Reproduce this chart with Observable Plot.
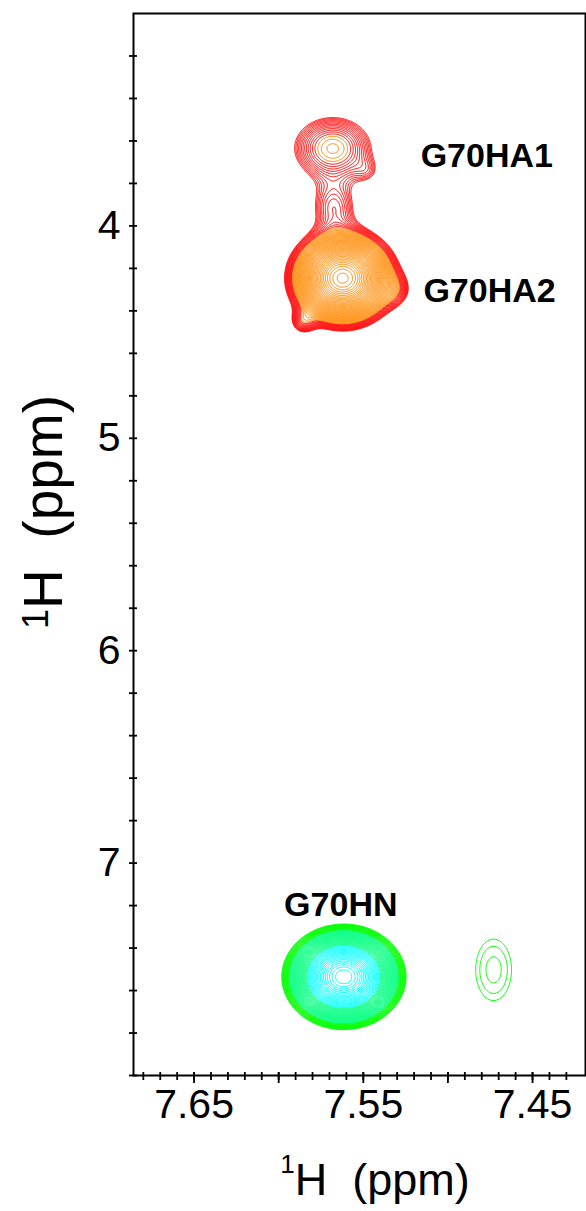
<!DOCTYPE html>
<html><head><meta charset="utf-8">
<script src="https://cdn.jsdelivr.net/npm/d3@7"></script>
<script src="https://cdn.jsdelivr.net/npm/@observablehq/plot@0.6"></script>
<style>
html,body{margin:0;padding:0;background:#fff;}
#chart svg{display:block;}
</style>
</head><body><div id="chart"></div>
<script>
// ---- Spectrum A (HA region, red -> orange contours): peak components (ppm)
const aX  = [7.5681, 7.5622, 7.5675, 7.5309, 7.5858, 7.5468];
const aY  = [3.6344, 4.2460, 3.9120, 4.3026, 4.4532, 3.7473];
const aH  = [2.27, 14.9, 1.4, 1.0, 1.3, 0.55];
const aSX = [0.01754, 0.01477, 0.01063, 0.00709, 0.00532, 0.00591];
const aSY = [0.1129, 0.1073, 0.0847, 0.0565, 0.0424, 0.0471];

// ---- Spectrum B (HN region, green -> cyan contours)
const bX  = [7.5616, 7.4730];
const bY  = [7.5355, 7.5026];
const bH  = [20, 1.14];
const bSX = [0.01494, 0.02067];
const bSY = [0.1016, 0.2824];

// ---- contour levels
const levels = [1, 1.055, 1.113, 1.174, 1.239, 1.307, 1.379, 1.455, 1.535, 1.619, 1.708, 1.802, 1.901,
  2.006, 2.116, 2.233, 2.355, 2.485, 2.622, 2.766, 2.918, 3.078, 3.248, 3.426, 3.615, 3.813, 4.023,
  4.245, 4.478, 4.724, 4.984, 5.258, 5.547, 5.852, 6.174, 6.514, 6.872, 7.250, 7.649, 8.069, 8.513,
  8.982, 9.476, 9.997, 10.547, 11.127, 11.739, 12.384, 13.065, 13.784, 14.542, 15.342, 16.186,
  17.076, 18.015, 19.006];

// ---- peak labels
const labelText = ["G70HA1", "G70HA2", "G70HN"];
const labelX = [7.5161, 7.5145, 7.5633];
const labelY = [3.672, 4.305, 7.197];
const labelAnchor = ["start", "start", "middle"];

// ---- ticks
const xTicks = [7.43,7.44,7.45,7.46,7.47,7.48,7.49,7.50,7.51,7.52,7.53,7.54,7.55,7.56,7.57,7.58,7.59,7.60,7.61,7.62,7.63,7.64,7.65,7.66,7.67,7.68];
const xTicksMajor = [7.45, 7.50, 7.55, 7.60, 7.65];
const xTickLabels = [7.45, 7.55, 7.65];
const yTicks = [3.2,3.4,3.6,3.8,4,4.2,4.4,4.6,4.8,5,5.2,5.4,5.6,5.8,6,6.2,6.4,6.6,6.8,7,7.2,7.4,7.6,7.8,8];
const yTickLabels = [4, 5, 6, 7];
const axisTitle = ["1", "H  (ppm)"];

function spectrum(px, py, ph, sx, sy) {
  return (x, y) => {
    let s = 0;
    for (let i = 0; i < px.length; i++) {
      const dx = (x - px[i]) / sx[i], dy = (y - py[i]) / sy[i];
      s += ph[i] * Math.exp(-0.5 * (dx * dx + dy * dy));
    }
    return s;
  };
}
// sample a spectrum on a regular grid (data coordinates)
function sampleGrid(f, x1, x2, y1, y2, W, H) {
  const v = new Array(W * H);
  for (let r = 0; r < H; r++) {
    const y = y1 + (r + 0.5) * (y2 - y1) / H;
    for (let c = 0; c < W; c++) {
      const x = x1 + (c + 0.5) * (x2 - x1) / W;
      v[r * W + c] = f(x, y);
    }
  }
  return {values: v, x1, x2, y1, y2, W, H};
}
const gA = sampleGrid(spectrum(aX, aY, aH, aSX, aSY), 7.62, 7.50, 3.3, 4.75, 203, 308);
const gB = sampleGrid(spectrum(bX, bY, bH, bSX, bSY), 7.62, 7.4187, 7.0, 8.0, 341, 212);

const lvA1 = levels.filter(l => l < 2), lvA2 = levels.filter(l => l >= 2);
const lvB1 = levels.filter(l => l < 2), lvB2 = levels.filter(l => l >= 2 && l < 6.9), lvB3 = levels.filter(l => l >= 6.9);

const labels = labelText.map((t, i) => ({t, x: labelX[i], y: labelY[i], a: labelAnchor[i]}));

const cont = (g, th, color) => Plot.contour(g.values, {
  value: d => d, width: g.W, height: g.H, x1: g.x1, x2: g.x2, y1: g.y1, y2: g.y2,
  thresholds: th, stroke: color, fill: "none", strokeWidth: 1
});

const chart = Plot.plot({
  width: 586, height: 1211,
  marginTop: 13, marginBottom: 136, marginLeft: 133, marginRight: 1,
  x: {domain: [7.6858, 7.4187], axis: null},
  y: {domain: [8, 3], axis: null},
  style: {fontFamily: "'Liberation Sans', Arial, sans-serif", fontSize: "41px", color: "black", background: "white"},
  marks: [
    cont(gA, lvA1, "#ff0000"),
    cont(gA, lvA2, "#ff8a00"),
    cont(gB, lvB1, "#00ff00"),
    cont(gB, lvB2, "#00ff80"),
    cont(gB, lvB3, "#00ffff"),
    Plot.text(labels.filter(d => d.a === "start"), {x: "x", y: "y", text: "t", textAnchor: "start", fontWeight: "bold", fontSize: 34, fill: "black"}),
    Plot.text(labels.filter(d => d.a === "middle"), {x: "x", y: "y", text: "t", textAnchor: "middle", fontWeight: "bold", fontSize: 34, fill: "black"}),
    Plot.frame({stroke: "black", strokeWidth: 2}),
    // x ticks (cross the bottom frame line)
    Plot.tickX(xTicks, {x: d => d, insetTop: 1059, insetBottom: -5, stroke: "black", strokeWidth: 1.8}),
    Plot.tickX(xTicksMajor, {x: d => d, insetTop: 1059, insetBottom: -8, stroke: "black", strokeWidth: 1.8}),
    Plot.text(xTickLabels, {x: d => d, frameAnchor: "bottom", dy: 13, lineAnchor: "top", text: d => d.toFixed(2), fontSize: 41, fill: "black"}),
    // y ticks (cross the left frame line)
    Plot.tickY(yTicks, {y: d => d, insetLeft: -4, insetRight: 448, stroke: "black", strokeWidth: 1.8}),
    Plot.text(yTickLabels, {y: d => d, frameAnchor: "left", dx: -13, textAnchor: "end", text: d => String(d), fontSize: 41, fill: "black"})
  ]
});

const svg = d3.select(chart);
const xt = svg.append("text").attr("x", 375).attr("y", 1195).attr("text-anchor", "middle")
  .attr("font-size", 45).attr("fill", "black").style("white-space", "pre");
xt.append("tspan").attr("font-size", 26).attr("dy", -22).text(axisTitle[0]);
xt.append("tspan").attr("dy", 22).text(axisTitle[1]);

const yt = svg.append("text").attr("transform", "translate(62,512) rotate(-90)").attr("text-anchor", "middle")
  .attr("font-size", 55).attr("fill", "black").style("white-space", "pre");
yt.append("tspan").attr("font-size", 36).attr("dy", -14).text(axisTitle[0]);
yt.append("tspan").attr("dy", 14).text(axisTitle[1]);

document.getElementById("chart").appendChild(chart);
</script>
</body></html>
